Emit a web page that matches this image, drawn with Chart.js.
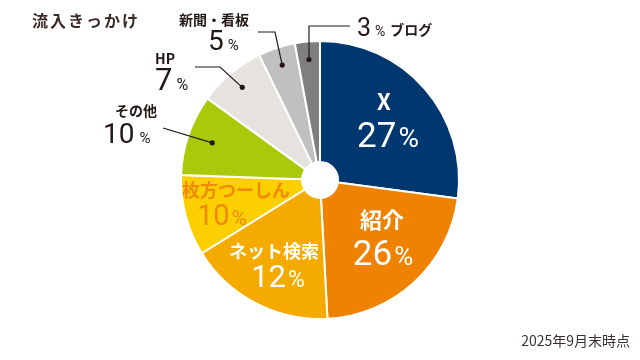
<!DOCTYPE html>
<html><head><meta charset="utf-8">
<script src="https://cdn.jsdelivr.net/npm/chart.js@4/dist/chart.umd.min.js"></script>
<style>
html,body{margin:0;padding:0;background:#fff;}
#wrap{position:relative;width:640px;height:360px;}
canvas{position:absolute;left:0;top:0;}
</style></head><body>
<div id="wrap"><canvas id="c" width="640" height="360"></canvas></div>
<script>
// ---- data ----
const categories = ['X', '紹介', 'ネット検索', '枚方つーしん', 'その他', 'HP', '新聞・看板', 'ブログ'];
const percentLabels = [27, 26, 12, 10, 10, 7, 5, 3];          // numbers printed on the chart
const sliceShares = [27.1, 22.0, 17.0, 9.4, 9.4, 7.8, 4.3, 2.9]; // angular share of each drawn slice
const sliceColors = ['#00376f', '#ef8200', '#f5aa00', '#fccf00', '#a9c90b', '#e6e3df', '#c0c0c0', '#7f7f7f'];
const chartTitle = '流入きっかけ';
const footnote = '2025年9月末時点';

const JP = '"Noto Sans CJK JP", "Noto Sans", sans-serif';
const NUM = 'Roboto, "Liberation Sans", sans-serif';
const DARK = '#231815';

function drawPct(ctx, value, x, base, numSize, pctSize, color, gap, align) {
  const n = String(value);
  ctx.font = `400 ${numSize}px ${NUM}`;
  const wn = ctx.measureText(n).width;
  ctx.font = `400 ${pctSize}px ${NUM}`;
  const wp = ctx.measureText('%').width;
  const total = wn + gap + wp;
  let sx = align === 'left' ? x : x - total / 2;
  ctx.fillStyle = color;
  ctx.textAlign = 'left';
  ctx.textBaseline = 'alphabetic';
  ctx.font = `400 ${numSize}px ${NUM}`;
  ctx.fillText(n, sx, base);
  ctx.font = `400 ${pctSize}px ${NUM}`;
  ctx.fillText('%', sx + wn + gap, base);
  return sx + total;
}
function drawName(ctx, text, x, y, size, color, align) {
  ctx.font = `bold ${size}px ${JP}`;
  ctx.fillStyle = color;
  ctx.textAlign = align || 'center';
  ctx.textBaseline = 'middle';
  ctx.fillText(text, x, y);
}

const labelPlugin = {
  id: 'labels',
  afterDraw(chart) {
    const ctx = chart.ctx;
    const arcs = chart.getDatasetMeta(0).data;
    ctx.save();
    // title & footnote
    ctx.font = `bold 16px ${JP}`;
    ctx.fillStyle = '#3a2a25';
    ctx.textAlign = 'left';
    ctx.textBaseline = 'middle';
    if ('letterSpacing' in ctx) ctx.letterSpacing = '2px';
    ctx.fillText(chartTitle, 32, 21);
    if ('letterSpacing' in ctx) ctx.letterSpacing = '0px';
    ctx.font = `14px ${JP}`;
    ctx.fillStyle = '#3a3030';
    ctx.textAlign = 'right';
    ctx.fillText(footnote, 630, 341);

    // inside labels
    drawName(ctx, categories[0], 384, 102, 22, '#fff');
    drawPct(ctx, percentLabels[0], 388, 147, 35, 28, '#fff', 2);
    drawName(ctx, categories[1], 382, 220, 22, '#fff');
    drawPct(ctx, percentLabels[1], 383, 265, 35, 26, '#fff', 2);
    drawName(ctx, categories[2], 274, 251, 18, '#fff');
    drawPct(ctx, percentLabels[2], 278, 287, 31, 23, '#fff', 2);
    drawName(ctx, categories[3], 236, 190, 18, '#ef8a00');
    drawPct(ctx, percentLabels[3], 222, 225, 29, 21, '#ef8a00', 2);

    // outside labels + leaders
    const dot = (i, f) => {
      const a = arcs[i];
      const m = (a.startAngle + a.endAngle) / 2;
      return [a.x + Math.cos(m) * a.outerRadius * f, a.y + Math.sin(m) * a.outerRadius * f];
    };
    ctx.strokeStyle = DARK;
    ctx.fillStyle = DARK;
    ctx.lineWidth = 1.2;
    const leader = (pts) => {
      ctx.beginPath();
      ctx.moveTo(pts[0][0], pts[0][1]);
      for (let k = 1; k < pts.length; k++) ctx.lineTo(pts[k][0], pts[k][1]);
      ctx.stroke();
      const e = pts[pts.length - 1];
      ctx.beginPath(); ctx.arc(e[0], e[1], 2.6, 0, Math.PI * 2); ctx.fill();
    };
    // その他
    const d4 = dot(4, 0.82);
    leader([[163, 128], d4]);
    drawName(ctx, categories[4], 136, 111, 14, DARK);
    drawPct(ctx, percentLabels[4], 103, 143, 28, 15, DARK, 5, 'left');
    // HP
    const d5 = dot(5, 0.87);
    leader([[195, 67], [220, 67], d5]);
    drawName(ctx, categories[5], 165, 59, 14, DARK);
    drawPct(ctx, percentLabels[5], 155, 90, 31, 16, DARK, 4, 'left');
    // 新聞・看板
    const d6 = dot(6, 0.87);
    leader([[258, 32], [275, 32], d6]);
    drawName(ctx, categories[6], 214, 20, 14, DARK);
    drawPct(ctx, percentLabels[6], 208, 50, 28, 15, DARK, 4, 'left');
    // ブログ
    const d7 = dot(7, 0.87);
    leader([[350, 26], [d7[0], 26], d7]);
    const end = drawPct(ctx, percentLabels[7], 357, 36, 25, 14, DARK, 4, 'left');
    drawName(ctx, categories[7], end + 5, 30, 14, DARK, 'left');
    ctx.restore();
  }
};

new Chart(document.getElementById('c'), {
  type: 'doughnut',
  data: {
    labels: categories,
    datasets: [{
      data: sliceShares,
      backgroundColor: sliceColors,
      borderColor: '#ffffff',
      borderWidth: 2
    }]
  },
  options: {
    responsive: false,
    animation: false,
    cutout: 18,
    layout: { padding: { top: 40, bottom: 40, left: 0, right: 0 } },
    plugins: { legend: { display: false }, tooltip: { enabled: false }, title: { display: false } }
  },
  plugins: [labelPlugin]
});
</script>
</body></html>
